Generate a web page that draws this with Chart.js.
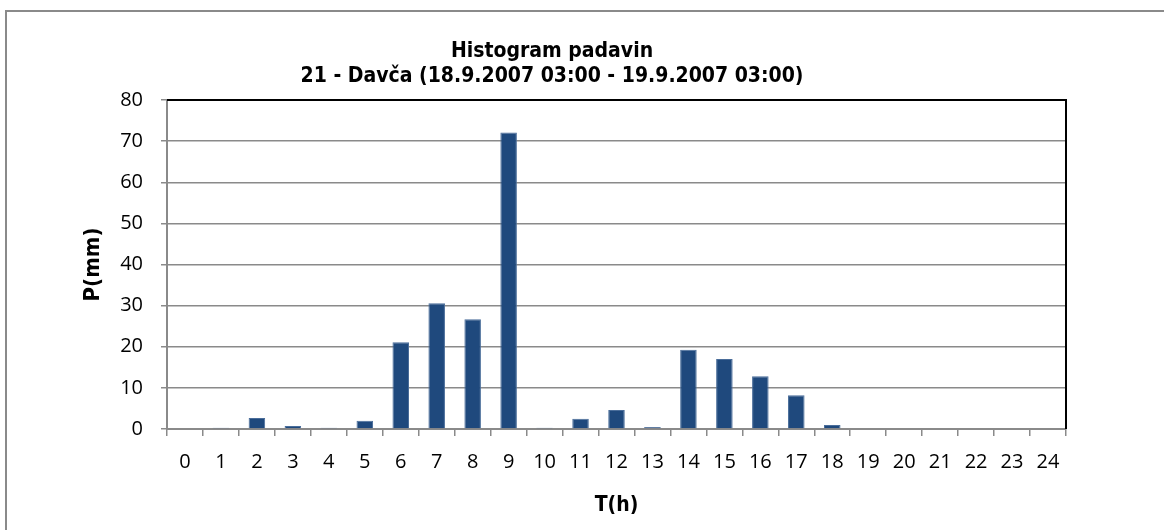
<!DOCTYPE html>
<html>
<head>
<meta charset="utf-8">
<script src="https://cdn.jsdelivr.net/npm/chart.js@4/dist/chart.umd.min.js"></script>
<style>
  html, body { margin: 0; padding: 0; background: #fff; }
  #wrap { width: 1164px; height: 530px; position: relative; }
</style>
</head>
<body>
<div id="wrap"><canvas id="c" width="1164" height="530"></canvas></div>
<script>
const hours = ['0','1','2','3','4','5','6','7','8','9','10','11','12','13','14','15','16','17','18','19','20','21','22','23','24'];
const precipitation = [0, 0.3, 2.7, 0.7, 0.3, 2.0, 21.1, 30.6, 26.7, 72.1, 0.3, 2.5, 4.6, 0.5, 19.3, 17.0, 12.8, 8.2, 1.0, 0, 0, 0, 0, 0, 0];
const titleLines = ['Histogram padavin', '21 - Davča (18.9.2007 03:00 - 19.9.2007 03:00)'];
const xTitle = 'T(h)';
const yTitle = 'P(mm)';
const yMin = 0, yMax = 80, yStep = 10;

const boldFont = "'DejaVu Sans Condensed', 'DejaVu Sans', sans-serif";
const tickFont = "'Open Sans', 'Noto Sans', sans-serif";

const framePlugin = {
  id: 'frame',
  beforeDraw(chart) {
    const ctx = chart.ctx;
    ctx.save();
    ctx.fillStyle = '#ffffff';
    ctx.fillRect(0, 0, chart.width, chart.height);
    ctx.strokeStyle = '#8a8a8a';
    ctx.lineWidth = 2;
    ctx.strokeRect(6, 11, chart.width + 50, chart.height + 50);
    ctx.restore();
  },
  afterDatasetsDraw(chart) {
    const {ctx, chartArea} = chart;
    ctx.save();
    ctx.strokeStyle = '#000000';
    ctx.lineWidth = 2;
    ctx.beginPath();
    ctx.moveTo(chartArea.left, chartArea.top);
    ctx.lineTo(chartArea.right, chartArea.top);
    ctx.lineTo(chartArea.right, chartArea.bottom);
    ctx.stroke();
    ctx.restore();
  }
};

new Chart(document.getElementById('c'), {
  type: 'bar',
  data: {
    labels: hours,
    datasets: [{
      data: precipitation,
      backgroundColor: '#1f497d',
      borderColor: '#4a6d9a',
      borderWidth: 1,
      barPercentage: 0.46,
      categoryPercentage: 1.0
    }]
  },
  options: {
    responsive: false,
    animation: false,
    devicePixelRatio: 1,
    layout: { padding: { left: 38, right: 98, top: 0, bottom: 0 } },
    plugins: {
      legend: { display: false },
      tooltip: { enabled: false },
      title: {
        display: true,
        text: titleLines,
        color: '#000',
        font: { family: boldFont, weight: 'bold', size: 21, lineHeight: '25px' },
        padding: { top: 39, bottom: 11 }
      }
    },
    scales: {
      x: {
        offset: true,
        grid: {
          offset: true,
          drawOnChartArea: false,
          drawTicks: true,
          tickLength: 7,
          color: '#8a8a8a',
          lineWidth: 1.5
        },
        border: { display: true, color: '#8a8a8a', width: 2 },
        ticks: {
          color: '#000',
          font: { family: tickFont, size: 20 },
          padding: 14,
          maxRotation: 0,
          autoSkip: false
        },
        title: {
          display: true,
          text: xTitle,
          color: '#000',
          font: { family: boldFont, weight: 'bold', size: 21 },
          padding: { top: 0, bottom: 12 }
        },
        afterFit(scale) { scale.height = 101; }
      },
      y: {
        min: yMin,
        max: yMax,
        grid: {
          color: '#8a8a8a',
          lineWidth: 1.5,
          tickLength: 6
        },
        border: { display: true, color: '#8a8a8a', width: 2 },
        ticks: {
          stepSize: yStep,
          color: '#000',
          font: { family: tickFont, size: 20 },
          padding: 18
        },
        title: {
          display: true,
          text: yTitle,
          color: '#000',
          font: { family: boldFont, weight: 'bold', size: 22 },
          padding: { top: 42, bottom: 0 }
        },
        afterFit(scale) { scale.width = 129; }
      }
    }
  },
  plugins: [framePlugin]
});
</script>
</body>
</html>
